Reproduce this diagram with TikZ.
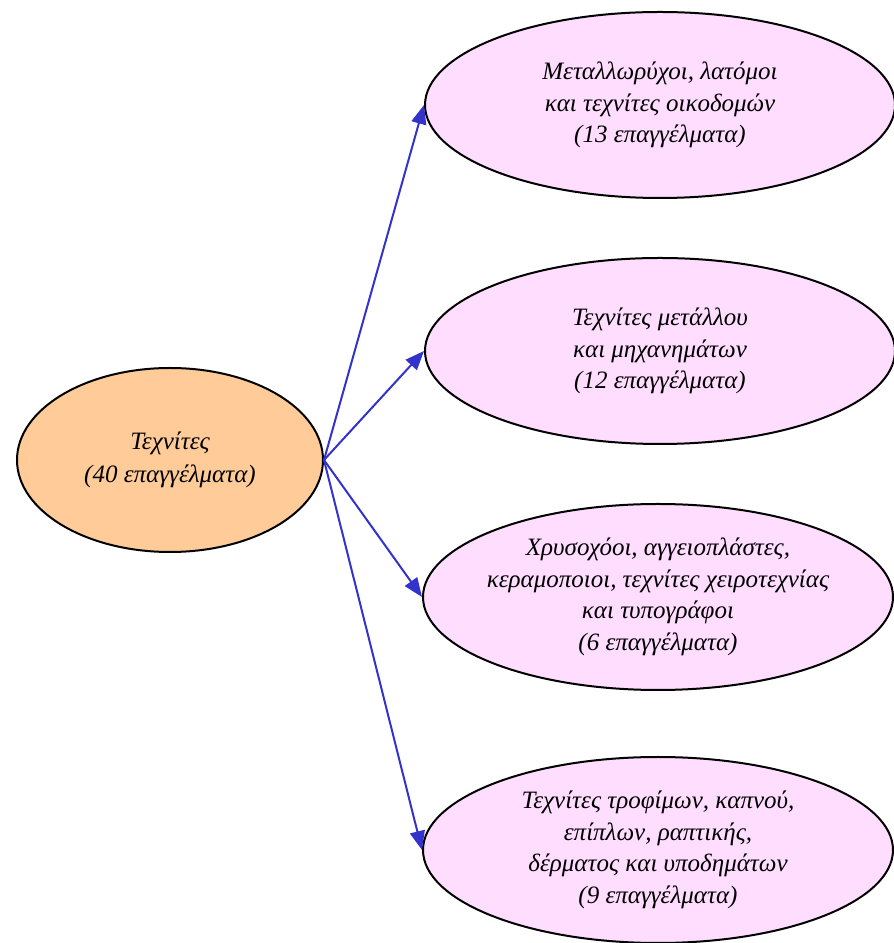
\documentclass[tikz,border=0pt]{standalone}
\usepackage{fontspec}
\setmainfont{Liberation Serif}
\usetikzlibrary{shapes.geometric,arrows.meta}
\definecolor{leftfill}{RGB}{255,204,153}
\definecolor{rightfill}{RGB}{255,221,255}
\definecolor{arrowblue}{RGB}{51,51,204}
\tikzset{
  x=1pt,y=1pt,
  ell/.style={ellipse, draw=black, line width=2pt, inner sep=0pt, align=center,
    font=\fontsize{25}{31.5}\selectfont\itshape},
  leftell/.style={ell, fill=leftfill, minimum width=306pt, minimum height=184pt},
  rightell/.style={ell, fill=rightfill, inner xsep=-12pt, minimum width=470pt, minimum height=186pt},
  conn/.style={draw=arrowblue, line width=2pt, -{Triangle[length=19pt,width=15pt]}}
}
\begin{document}
\begin{tikzpicture}
\useasboundingbox (0,0) rectangle (894,943);
\node[leftell] (L) at (170,483) {Τεχνίτες\\[2pt](40 επαγγέλματα)};
\node[rightell] (A) at (660,838) {Μεταλλωρύχοι, λατόμοι\\και τεχνίτες οικοδομών\\(13 επαγγέλματα)};
\node[rightell] (B) at (660,592) {Τεχνίτες μετάλλου\\και μηχανημάτων\\(12 επαγγέλματα)};
\node[rightell] (C) at (658,346) {Χρυσοχόοι, αγγειοπλάστες,\\κεραμοποιοι, τεχνίτες χειροτεχνίας\\και τυπογράφοι\\(6 επαγγέλματα)};
\node[rightell] (D) at (658,93) {Τεχνίτες τροφίμων, καπνού,\\επίπλων, ραπτικής,\\δέρματος και υποδημάτων\\(9 επαγγέλματα)};
\draw[conn] (L.east) -- (A.west);
\draw[conn] (L.east) -- (B.west);
\draw[conn] (L.east) -- (C.west);
\draw[conn] (L.east) -- (D.west);
\end{tikzpicture}
\end{document}
